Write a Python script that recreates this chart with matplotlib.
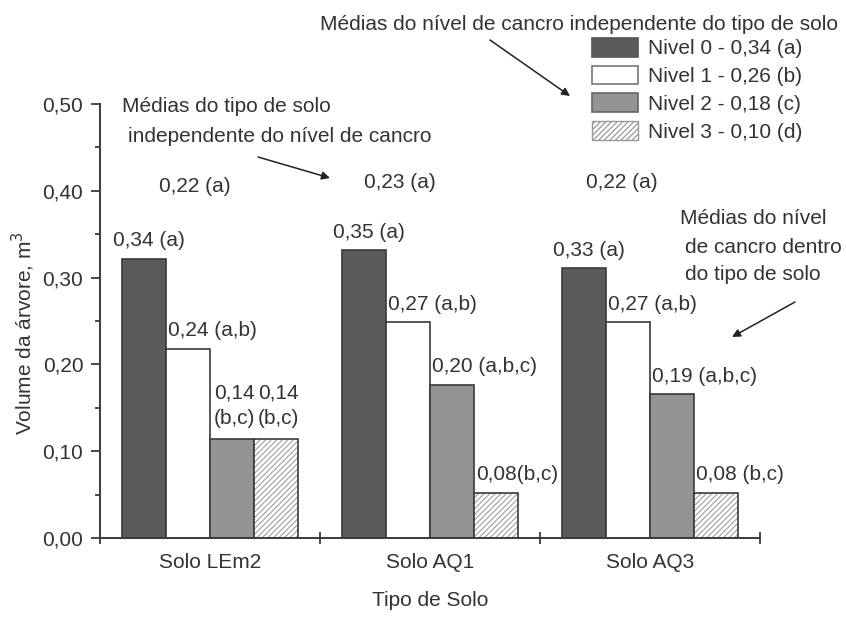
import matplotlib
matplotlib.use('Agg')
import matplotlib.pyplot as plt
import numpy as np
from matplotlib.patches import Patch, FancyArrowPatch
from matplotlib.ticker import FixedLocator, MultipleLocator

plt.rcParams['font.family'] = ['Liberation Sans', 'DejaVu Sans']
plt.rcParams['hatch.linewidth'] = 0.9

# ---------------- data ----------------
soils = ["Solo LEm2", "Solo AQ1", "Solo AQ3"]
nivel0 = [0.34, 0.35, 0.33]
nivel1 = [0.24, 0.27, 0.27]
nivel2 = [0.14, 0.20, 0.19]
nivel3 = [0.14, 0.08, 0.08]
lab0 = ["0,34 (a)", "0,35 (a)", "0,33 (a)"]
lab1 = ["0,24 (a,b)", "0,27 (a,b)", "0,27 (a,b)"]
lab2 = ["0,14\n(b,c)", "0,20 (a,b,c)", "0,19 (a,b,c)"]
lab3 = ["0,14\n(b,c)", "0,08(b,c)", "0,08 (b,c)"]
soil_means = ["0,22 (a)", "0,23 (a)", "0,22 (a)"]
legend_labels = ["Nivel 0 - 0,34 (a)", "Nivel 1 - 0,26 (b)",
                 "Nivel 2 - 0,18 (c)", "Nivel 3 - 0,10 (d)"]
yticks = [0.0, 0.1, 0.2, 0.3, 0.4, 0.5]
ytick_labels = ["0,00", "0,10", "0,20", "0,30", "0,40", "0,50"]

# ---------------- style ----------------
TXT = '#333333'
EDGE = '#3a3a3a'
C_DARK = '#5a5b5d'
C_WHITE = '#ffffff'
C_GRAY = '#939496'
C_HATCH = '#a8a8a8'
FS = 15

W, H = 846, 633
fig = plt.figure(figsize=(W / 100, H / 100), dpi=100)
rect = [100 / W, 1 - 538 / H, 660 / W, 434 / H]

# bars axis (the bars of the original are drawn on a slightly shifted scale)
axb = fig.add_axes(rect)
axb.set_xlim(-0.5, 2.5)
axb.set_ylim(0.03, 0.03 + 434 / 900)
axb.axis('off')

x = np.arange(len(soils))
bw = 0.2
series = [nivel0, nivel1, nivel2, nivel3]
labels = [lab0, lab1, lab2, lab3]
colors = [C_DARK, C_WHITE, C_GRAY, 'white']
for i, (vals, col) in enumerate(zip(series, colors)):
    xs = x + (i - 1.5) * bw
    if i == 3:
        axb.bar(xs, vals, bw, color='white', edgecolor=C_HATCH, hatch='//////', linewidth=0)
        axb.bar(xs, vals, bw, fill=False, edgecolor=EDGE, linewidth=1.2)
    else:
        axb.bar(xs, vals, bw, color=col, edgecolor=EDGE, linewidth=1.2)
    for xi, v, t in zip(xs, vals, labels[i]):
        if i == 0:
            axb.annotate(t, (xi, v), xytext=(5, 18), textcoords='offset pixels',
                         ha='center', va='center', fontsize=FS, color=TXT)
        elif '\n' in t:
            axb.annotate(t, (xi - bw / 2, v), xytext=(4, 33), textcoords='offset pixels',
                         ha='left', va='center', fontsize=FS, color=TXT,
                         linespacing=1.45)
        else:
            axb.annotate(t, (xi - bw / 2, v), xytext=(2, 18), textcoords='offset pixels',
                         ha='left', va='center', fontsize=FS, color=TXT)

handles = [Patch(facecolor=C_DARK, edgecolor='#555555', linewidth=1.2),
           Patch(facecolor=C_WHITE, edgecolor='#777777', linewidth=1.2),
           Patch(facecolor=C_GRAY, edgecolor='#666666', linewidth=1.2),
           Patch(facecolor='white', edgecolor='#999999', hatch='//////', linewidth=1.0)]

# visible value axis
ax = fig.add_axes(rect, sharex=axb)
ax.patch.set_visible(False)
ax.set_ylim(0, 0.5)
ax.set_xlim(-0.5, 2.5)
for s in ['top', 'right']:
    ax.spines[s].set_visible(False)
for s in ['left', 'bottom']:
    ax.spines[s].set_linewidth(1.4)
    ax.spines[s].set_color(EDGE)
ax.yaxis.set_major_locator(FixedLocator(yticks))
ax.set_yticklabels(ytick_labels)
ax.yaxis.set_minor_locator(MultipleLocator(0.05))
ax.tick_params(axis='y', which='major', direction='out', length=6.5, width=1.3,
               color=EDGE, labelsize=FS, labelcolor=TXT, pad=5.5)
ax.tick_params(axis='y', which='minor', direction='out', length=3.8, width=1.3, color=EDGE)
ax.set_xticks(x)
ax.set_xticklabels(soils)
ax.xaxis.set_minor_locator(FixedLocator([-0.5, 0.5, 1.5, 2.5]))
ax.tick_params(axis='x', which='major', length=0, labelsize=FS, labelcolor=TXT, pad=11)
ax.tick_params(axis='x', which='minor', direction='inout', length=8, width=1.3, color=EDGE)

ax.set_xlabel('Tipo de Solo', fontsize=FS, color=TXT, va='center')
ax.xaxis.set_label_coords(0.5, (538 - 600) / 434)
ax.set_ylabel('Volume da árvore, m$^3$', fontsize=FS, color=TXT, va='center')
ax.yaxis.set_label_coords((23 - 100) / 660, (538 - 333) / 434)


def px(xp, yp):
    return (xp / W, 1 - yp / H)


# soil means
for t, (xp, yp) in zip(soil_means, [(195, 187), (400, 183), (622, 183)]):
    fig.text(*px(xp, yp), t, ha='center', va='center', fontsize=FS, color=TXT)

# annotations
fig.text(*px(320, 24), 'Médias do nível de cancro independente do tipo de solo',
         ha='left', va='center', fontsize=FS, color=TXT)
fig.text(*px(122, 107), 'Médias do tipo de solo', ha='left', va='center', fontsize=FS, color=TXT)
fig.text(*px(128, 136), 'independente do nível de cancro', ha='left', va='center',
         fontsize=FS, color=TXT)
fig.text(*px(680, 218), 'Médias do nível', ha='left', va='center', fontsize=FS, color=TXT)
fig.text(*px(685, 247), 'de cancro dentro', ha='left', va='center', fontsize=FS, color=TXT)
fig.text(*px(685, 275), 'do tipo de solo', ha='left', va='center', fontsize=FS, color=TXT)

arrowprops = dict(arrowstyle='-|>', color='#222222', lw=1.1, mutation_scale=12,
                  shrinkA=0, shrinkB=0)
for (x0, y0), (x1, y1) in [((490, 40), (570, 96)), ((258, 157), (330, 178)),
                           ((795, 302), (732, 337))]:
    fig.add_artist(FancyArrowPatch(px(x0, y0), px(x1, y1),
                                   transform=fig.transFigure, **arrowprops))

# legend
fig.legend(handles, legend_labels, loc='upper left', bbox_to_anchor=px(592, 38),
           frameon=False, fontsize=FS, labelcolor=TXT, handlelength=2.2,
           handleheight=1.0, handletextpad=0.5, labelspacing=0.35, borderpad=0,
           borderaxespad=0)

fig.savefig('out.png', dpi=100)
